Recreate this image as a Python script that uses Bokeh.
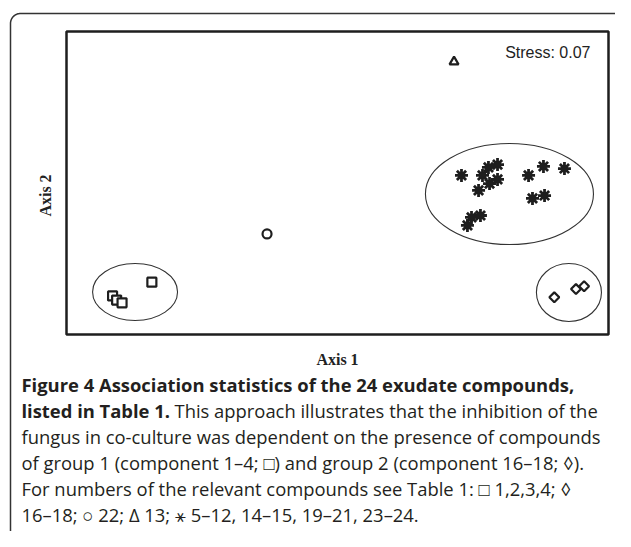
import numpy as np
from bokeh.plotting import figure
from bokeh.models import Range1d
from bokeh.embed import file_html
from bokeh.resources import INLINE
from bokeh.core.properties import value

# ---------------- data (NMDS ordination coordinates) ----------------
square_x = [-1.66, -1.63, -1.59, -1.37]          # compounds 1-4
square_y = [-0.82, -0.85, -0.87, -0.72]
diamond_x = [1.60, 1.76, 1.82]                    # compounds 16-18
diamond_y = [-0.83, -0.77, -0.75]
circle_x = [-0.52]                                # compound 22
circle_y = [-0.37]
triangle_x = [0.86]                               # compound 13
triangle_y = [0.88]
star_x = [0.915, 1.070, 1.114, 1.181, 1.181, 1.122, 1.041, 1.410,
          1.520, 1.675, 1.439, 1.528, 1.055, 0.989, 0.959]
star_y = [0.055, 0.055, 0.113, 0.134, 0.026, -0.004, -0.054, 0.055,
          0.120, 0.105, -0.112, -0.091, -0.236, -0.250, -0.308]
# group ellipses: centre x, centre y, width, height
ell_x = [-1.494, 1.708, 1.269]
ell_y = [-0.791, -0.795, -0.080]
ell_w = [0.627, 0.480, 1.240]
ell_h = [0.414, 0.421, 0.733]
x_extent = [-2.0, 2.0]
y_extent = [-1.1, 1.1]

stress_label = "Stress: 0.07"
x_label = "Axis 1"
y_label = "Axis 2"
caption_bold_1 = "Figure 4 Association statistics of the 24 exudate compounds,"
caption_bold_2 = "listed in Table 1."
caption_rest_2 = "This approach illustrates that the inhibition of the"
caption_lines = [
    "fungus in co-culture was dependent on the presence of compounds",
    "of group 1 (component 1\u20134; \u25a1) and group 2 (component 16\u201318; \u25ca).",
    "For numbers of the relevant compounds see Table 1: \u25a1 1,2,3,4; \u25ca",
    "16\u201318; \u25cb 22; \u0394 13; \u26b9 5\u201312, 14\u201315, 19\u201321, 23\u201324.",
]

# ---------------- layout (canvas pixels) ----------------
W, H = 615, 531
FL, FR, FT, FB = 66, 608, 31, 334   # plot frame inside canvas

X0, X1 = x_extent
Y0, Y1 = y_extent
sx = (X1 - X0) / (FR - FL)
sy = (Y1 - Y0) / (FB - FT)
x_rng = Range1d(X0 - FL * sx, X1 + (W - FR) * sx)
y_rng = Range1d(Y0 - (H - FB) * sy, Y1 + FT * sy)

p = figure(width=W, height=H, x_range=x_rng, y_range=y_rng,
           output_backend="svg", toolbar_location=None,
           x_axis_location=None, y_axis_location=None, min_border=0)
p.grid.visible = False
p.outline_line_color = None
p.background_fill_color = "white"
p.border_fill_color = "white"
p.extra_x_ranges = {"px": Range1d(0, W)}
p.extra_y_ranges = {"px": Range1d(H, 0)}

# outer rounded box (only top/left visible in window)
r = 10
L, T, R = 10, 13, 630
t1 = np.linspace(np.pi, 1.5 * np.pi, 20)
t2 = np.linspace(1.5 * np.pi, 2 * np.pi, 20)
bx = np.concatenate([[L], L + r + r * np.cos(t1), R - r + r * np.cos(t2), [R]])
by = np.concatenate([[H + 20], T + r + r * np.sin(t1), T + r + r * np.sin(t2), [H + 20]])
p.line(bx, by, x_range_name="px", y_range_name="px", line_color="#333333", line_width=1.5)

# plot frame
p.quad(left=[X0], right=[X1], bottom=[Y0], top=[Y1], fill_color=None,
       line_color="#1e1e1e", line_width=2.5)

# group ellipses
p.ellipse(x=ell_x, y=ell_y, width=ell_w, height=ell_h, fill_color=None,
          line_color="#333333", line_width=1.1)

# points
ink = "#1e1e1e"
p.scatter(star_x, star_y, marker="asterisk", size=13, line_width=2.8, line_color=ink)
p.scatter(square_x, square_y, marker="square", size=9, line_width=2.2,
          line_color=ink, fill_color="white")
p.scatter(diamond_x, diamond_y, marker="square", angle=np.pi / 4, size=7,
          line_width=2.2, line_color=ink, fill_color="white")
p.scatter(circle_x, circle_y, marker="circle", size=9, line_width=2.2,
          line_color=ink, fill_color="white")
p.scatter(triangle_x, triangle_y, marker="triangle", size=9, line_width=2.2,
          line_color=ink, fill_color="white")

# texts
p.text(x=[590], y=[52], text=[stress_label], x_range_name="px", y_range_name="px",
       text_align="right", text_baseline="middle", text_color="#222222",
       text_font=value("Liberation Sans"), text_font_size=value("16px"))
p.text(x=[45], y=[195], text=[y_label], angle=np.pi / 2, x_range_name="px", y_range_name="px",
       text_align="center", text_baseline="middle", text_color="#222222",
       text_font=value("Liberation Serif"), text_font_style="bold",
       text_font_size=value("16px"))
p.text(x=[337], y=[359], text=[x_label], x_range_name="px", y_range_name="px",
       text_align="center", text_baseline="middle", text_color="#222222",
       text_font=value("Liberation Serif"), text_font_style="bold",
       text_font_size=value("16px"))

cap_font = value("Open Sans")
cap_size = value("18.4px")
cap_color = "#231f20"
line_y = [384, 410, 436, 462, 488, 514]
cx = 21
p.text(x=[cx], y=[line_y[0]], text=[caption_bold_1], x_range_name="px", y_range_name="px",
       text_align="left", text_baseline="middle", text_color=cap_color,
       text_font=cap_font, text_font_style="bold", text_font_size=cap_size)
p.text(x=[cx], y=[line_y[1]], text=[caption_bold_2], x_range_name="px", y_range_name="px",
       text_align="left", text_baseline="middle", text_color=cap_color,
       text_font=cap_font, text_font_style="bold", text_font_size=cap_size)
p.text(x=[cx + 153], y=[line_y[1]], text=[caption_rest_2], x_range_name="px", y_range_name="px",
       text_align="left", text_baseline="middle", text_color=cap_color,
       text_font=cap_font, text_font_size=cap_size)
p.text(x=[cx] * len(caption_lines), y=line_y[2:], text=caption_lines,
       x_range_name="px", y_range_name="px",
       text_align="left", text_baseline="middle", text_color=cap_color,
       text_font=cap_font, text_font_size=cap_size)

open("out.html", "w").write(file_html(p, INLINE))
